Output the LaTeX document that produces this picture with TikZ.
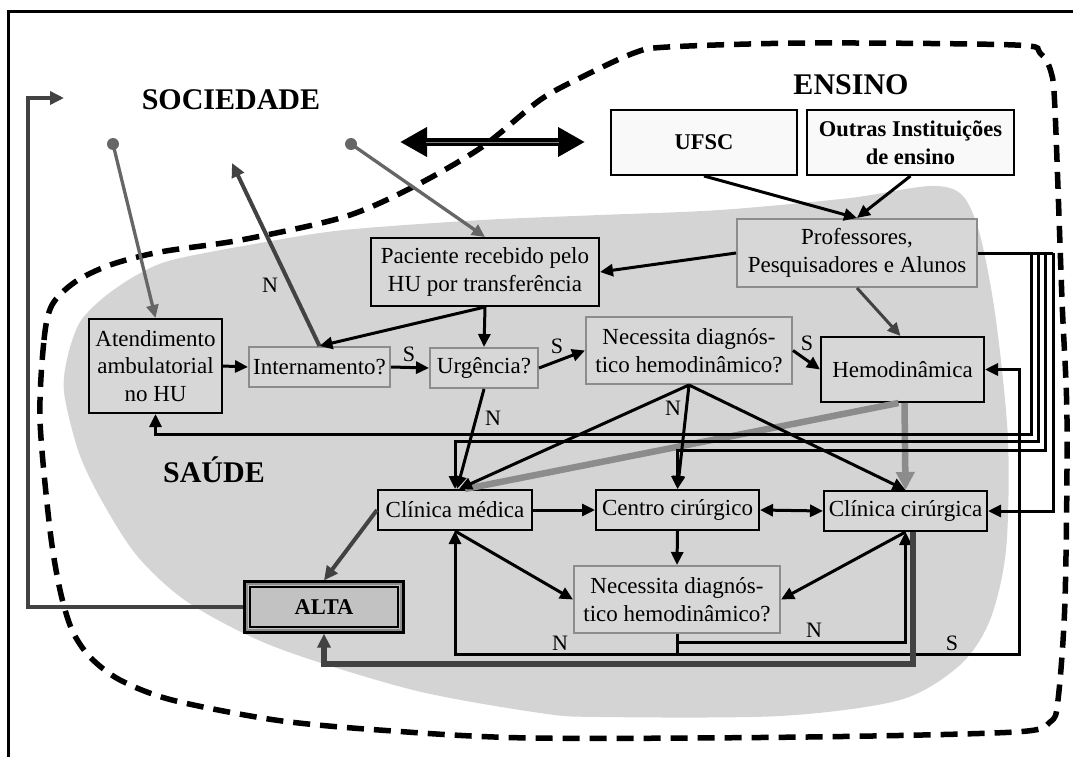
\documentclass[tikz,border=0pt]{standalone}
\usepackage{fontspec}
\setmainfont{Liberation Serif}
\usetikzlibrary{arrows.meta,calc}

\definecolor{blob}{gray}{0.83}
\definecolor{boxfill}{gray}{0.845}
\definecolor{edgegray}{gray}{0.55}
\definecolor{dkgray}{gray}{0.26}
\definecolor{midgray}{gray}{0.40}
\definecolor{hemogray}{gray}{0.55}
\definecolor{altafill}{gray}{0.76}
\definecolor{paper}{gray}{0.975}

\begin{document}
\begin{tikzpicture}[x=1pt,y=-1pt,
  txt/.style={font=\fontsize{23}{27.6}\selectfont, align=center, inner sep=0pt},
  bbox/.style={txt, draw=black, line width=2, fill=boxfill},
  gbox/.style={txt, draw=edgegray, line width=2, fill=boxfill},
  wbox/.style={font=\bfseries\fontsize{22.5}{28}\selectfont, align=center, inner sep=0pt,
               draw=black, line width=2, fill=paper},
  altabox/.style={font=\bfseries\fontsize{22.5}{27}\selectfont, inner sep=0pt,
               draw=black, line width=3.2, fill=altafill},
  title/.style={font=\bfseries\fontsize{30}{36}\selectfont, inner sep=0pt},
  lbl/.style={font=\fontsize{22}{26}\selectfont, inner sep=0pt},
  tip/.style={-{Triangle[length=13pt,width=12pt]}},
  conn/.style={draw=black, line width=3, tip},
  plain/.style={draw=black, line width=3},
  socarrow/.style={draw=midgray, line width=3.3, tip},
  retarrow/.style={draw=dkgray, line width=4, -{Triangle[length=14pt,width=13pt]}},
  hemoline/.style={draw=hemogray, line width=6.5},
]
\useasboundingbox (0,0) rectangle (1073,757);

% frame
\draw[line width=2.8] (8.5,770) -- (8.5,11.5) -- (1090,11.5);

% health area
\fill[blob] plot[smooth cycle, tension=0.5] coordinates {
  (64,392) (68,355) (80,322) (103,298) (135,276) (172,260) (260,243)
  (344,230) (482,220) (600,215) (720,210) (850,198) (930,186) (962,195)
  (980,235) (996,320) (1008,440) (1006,550) (990,620) (960,665) (900,700)
  (780,716) (600,717) (540,713) (413,690) (275,647) (189,603) (138,557)
  (103,503) (79,453)};

% teaching area
\draw[line width=5.5, dash pattern=on 17pt off 10pt]
  plot[smooth cycle, tension=0.5] coordinates {
  (40,420) (44,340) (52,305) (75,282) (110,265) (160,252) (241,240)
  (344,217) (413,187) (482,147) (540,100) (582,77) (634,53) (668,47)
  (807,43) (1015,45) (1040,53) (1051,72) (1055,110) (1062,300) (1067,420)
  (1065,600) (1058,700) (1050,722) (1015,732) (807,737) (530,738)
  (379,730) (275,720) (172,700) (120,680) (90,657) (72,630) (60,590) (50,530)};

% area titles
\node[title] (soc) at (231,100) {SOCIEDADE};
\node[title] (ens) at (851,85) {ENSINO};
\node[title] (sau) at (214,470) {SAÚDE};

% boxes
\node[wbox, minimum width=186, minimum height=65] (ufsc) at (704,142.5) {UFSC};
\node[wbox, minimum width=207, minimum height=65] (outras) at (910.5,142.5) {Outras Instituições\\de ensino};
\node[gbox, minimum width=240, minimum height=68] (prof) at (857,253) {Professores,\\Pesquisadores e Alunos};
\node[bbox, minimum width=228, minimum height=68] (pac) at (485,272) {Paciente recebido pelo\\HU por transferência};
\node[bbox, minimum width=133, minimum height=94] (aten) at (155.5,366) {Atendimento\\ambulatorial\\no HU};
\node[gbox, minimum width=141, minimum height=40] (intern) at (319.5,367) {Internamento?};
\node[gbox, minimum width=108, minimum height=40] (urg) at (484,368) {Urgência?};
\node[gbox, minimum width=206, minimum height=67] (nec1) at (689,350.5) {Necessita diagnós-\\tico hemodinâmico?};
\node[bbox, minimum width=163, minimum height=65] (hemo) at (902.5,369.5) {Hemodinâmica};
\node[bbox, minimum width=154, minimum height=40] (cmed) at (455,510) {Clínica médica};
\node[bbox, minimum width=163, minimum height=40] (ccen) at (677.5,510) {Centro cirúrgico};
\node[bbox, minimum width=163, minimum height=40] (ccir) at (905.5,511) {Clínica cirúrgica};
\node[gbox, minimum width=206, minimum height=67] (nec2) at (677,599.5) {Necessita diagnós-\\tico hemodinâmico?};
\node[altabox, minimum width=158, minimum height=50] (alta) at (324,607) {ALTA};
\draw[edgegray, line width=2] ([shift={(3.6,3.6)}]alta.north west) rectangle ([shift={(-3.6,-3.6)}]alta.south east);
\draw[black, line width=2] ([shift={(6.2,6.2)}]alta.north west) rectangle ([shift={(-6.2,-6.2)}]alta.south east);

% society
\coordinate (d1) at (113,144);
\coordinate (d3) at (351,144);
\coordinate (soc2) at (232,163);
\fill[midgray] (d1) circle (6pt);
\fill[midgray] (d3) circle (6pt);
\draw[socarrow] (d1) -- (aten.north);
\draw[socarrow] (d3) -- (pac.north);
\draw[retarrow] (intern.north) -- (soc2);
\node[lbl] at (270,285) {N};

% exchange between society and teaching
\coordinate (ex1) at (400,142);
\coordinate (ex2) at (585,142);
\draw[line width=8.5, {Triangle[length=27pt,width=28pt]}-{Triangle[length=27pt,width=28pt]}] (ex1) -- (ex2);
\draw[gray, line width=0.6] ([xshift=26pt]ex1) -- ([xshift=-26pt]ex2);

% teaching
\draw[conn] (ufsc.south) -- (prof.north);
\draw[conn] (outras.south) -- (prof.north);
\draw[conn] (prof.west) -- (pac.east);
\draw[conn, draw=dkgray] (prof.south) -- ([xshift=-2pt]hemo.north);

% admission flow
\draw[conn] (pac.south) -- (intern.north);
\draw[conn] (pac.south) -- (urg.north);
\draw[conn] (aten.east) -- (intern.west);
\draw[conn] (intern.east) -- (urg.west);
\node[lbl] at (409,354) {S};
\draw[conn] (urg.east) -- (nec1.west);
\node[lbl] at (557,346) {S};
\draw[conn] (nec1.east) -- (hemo.west);
\node[lbl] at (807,343) {S};

% hemodynamics outputs
\draw[hemoline] ([xshift=-4pt]hemo.south) -- ([xshift=10pt]cmed.north);
\draw[hemoline, -{Triangle[length=18pt,width=18pt]}] ([xshift=2pt]hemo.south) -- (ccir.north);

\draw[conn] (urg.south) -- ([xshift=2pt]cmed.north);
\node[lbl] at (493,418) {N};
\draw[conn] (nec1.south) -- ([xshift=4pt]cmed.north);
\draw[conn] (nec1.south) -- (ccen.north);
\draw[conn] (nec1.south) -- (ccir.north);
\node[lbl] at (673,408) {N};

% bus from Professores
\coordinate (b1) at (1031,0);
\coordinate (b2) at (1038,0);
\coordinate (b3) at (1045,0);
\coordinate (b5) at (1053,0);
\draw[plain] (prof.east) -- (prof.east -| b5);
\draw[conn] (prof.east -| b1) |- ([yshift=-20pt]aten.south) -- (aten.south);
\draw[conn] (prof.east -| b2) |- ([yshift=48pt]cmed.north) -- (cmed.north);
\draw[conn] (prof.east -| b3) |- ([yshift=39pt]ccen.north) -- (ccen.north);
\draw[conn] (prof.east -| b5) |- (ccir.east);

% surgery flow
\draw[conn] (cmed.east) -- (ccen.west);
\draw[draw=black, line width=3, {Triangle[length=13pt,width=12pt]}-{Triangle[length=13pt,width=12pt]}] (ccen.east) -- (ccir.west);
\draw[conn] (ccen.south) -- (nec2.north);
\draw[conn] (cmed.south) -- (nec2.west);
\draw[conn] (ccir.south) -- (nec2.east);

% second diagnosis decision
\coordinate (sx) at (1019,0);
\draw[plain] (nec2.south) -- ++(0,20) coordinate (nj);
\draw[conn] (nj) -| (cmed.south);
\node[lbl] at (560,643) {N};
\draw[conn] (nj) -- (nj -| sx) |- (hemo.east);
\node[lbl] at (952,643) {S};
\draw[conn] ([yshift=-8pt]nec2.south) -| (ccir.south);
\node[lbl] at (814,630) {N};

% discharge
\draw[retarrow] (cmed.west) -- (alta.north);
\draw[retarrow, line width=5.5] ([xshift=7.5pt]ccir.south) -- ++(0,132) -| (alta.south);
\coordinate (rt1) at (27.5,98);
\coordinate (rt2) at (64,98);
\draw[retarrow] (alta.west) -| (rt1) -- (rt2);
\end{tikzpicture}
\end{document}
